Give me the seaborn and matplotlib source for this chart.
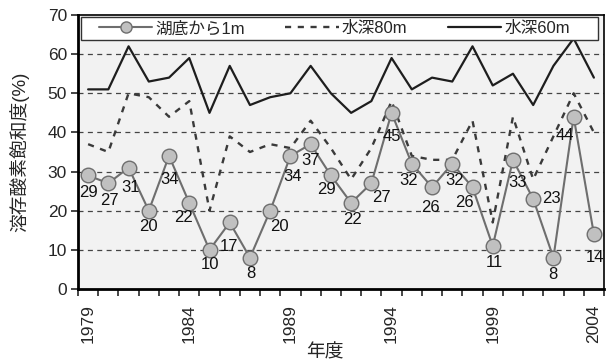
import matplotlib
matplotlib.use("Agg")
import matplotlib.pyplot as plt
from matplotlib.patches import Rectangle
import numpy as np
import pandas as pd
import seaborn as sns

# ---------------- data ----------------
years = list(range(1979, 2005))
bottom_1m = [29, 27, 31, 20, 34, 22, 10, 17, 8, 20, 34, 37, 29, 22, 27, 45, 32, 26, 32, 26, 11, 33, 23, 8, 44, 14]
depth_80m = [37, 35, 50, 49, 44, 48, 20, 39, 35, 37, 36, 43, 36, 28, 36, 48, 34, 33, 33, 43, 17, 44, 28, 39, 50, 40]
depth_60m = [51, 51, 62, 53, 54, 59, 45, 57, 47, 49, 50, 57, 50, 45, 48, 59, 51, 54, 53, 62, 52, 55, 47, 57, 64, 54]
series_names = ["湖底から1m", "水深80m", "水深60m"]
xtick_years = [1979, 1984, 1989, 1994, 1999, 2004]
yticks = [0, 10, 20, 30, 40, 50, 60, 70]
xlabel = "年度"
ylabel = "溶存酸素飽和度(%)"

# value-label offsets in pixels (dx, dy downward) -- layout only
label_offsets = [(0, 17), (1, 17), (2, 20), (0, 16), (1, 24), (-6, 15), (0, 15), (-1, 24),
                 (1, 16), (9, 16), (2, 21), (0, 16), (-4, 14), (1, 17), (10, 14), (0, 24),
                 (-3, 17), (-2, 20), (2, 17), (-8, 15), (2, 17), (5, 23), (18, 0), (-1, 17),
                 (-9, 19), (1, 23)]

# ---------------- style ----------------
sns.set_style("white")
plt.rcParams["font.family"] = ["Liberation Sans", "Noto Sans CJK JP"]

df = pd.DataFrame({"idx": np.arange(len(years)), "year": years,
                   "b1": bottom_1m, "d80": depth_80m, "d60": depth_60m})

W, H = 609, 363
AX_L, AX_R, AX_T, AX_B = 78, 604, 15, 289
AW, AH = AX_R - AX_L, AX_B - AX_T

fig = plt.figure(figsize=(W / 100, H / 100), dpi=100)
ax = fig.add_axes([AX_L / W, 1 - AX_B / H, AW / W, AH / H])
ax.set_facecolor("#f2f2f2")

# grid
for v in yticks[1:-1]:
    ax.axhline(v, color="#444444", lw=0.9, ls=(0, (4, 3.5)), zorder=1)

sns.lineplot(data=df, x="idx", y="d60", ax=ax, color="#1e1e1e", lw=1.6,
             label=series_names[2], zorder=3)
sns.lineplot(data=df, x="idx", y="d80", ax=ax, color="#3a3a3a", lw=1.7,
             ls=(0, (2.6, 2.8)), label=series_names[1], zorder=3)
sns.lineplot(data=df, x="idx", y="b1", ax=ax, color="#6e6e6e", lw=1.5,
             marker="o", markersize=10.5, markerfacecolor="#c0c0c0",
             markeredgecolor="#6e6e6e", markeredgewidth=1.0,
             label=series_names[0], zorder=4)

for i, v in enumerate(bottom_1m):
    dx, dy = label_offsets[i]
    ax.annotate(str(v), (i, v), xytext=(dx, -dy), textcoords="offset pixels",
                ha="center", va="center", fontsize=12, color="#111111", zorder=5)

ax.set_xlim(-0.5, len(years) - 0.5)
ax.set_ylim(0, 70)
ax.set_yticks(yticks)
ax.set_yticklabels([str(t) for t in yticks], fontsize=12.5)
ax.set_xticks([years.index(y) for y in xtick_years])
ax.set_xticklabels([str(y) for y in xtick_years], rotation=90, fontsize=12.5)
ax.set_xticks(np.arange(-0.5, len(years), 1.0), minor=True)
ax.tick_params(axis="x", which="major", length=0, pad=11)
ax.tick_params(axis="x", which="minor", length=5, width=1.2, direction="out", bottom=True)
ax.tick_params(axis="y", which="major", length=5, width=1.2, direction="out", left=True, pad=3)

for s in ["left", "bottom"]:
    ax.spines[s].set_linewidth(2.0)
    ax.spines[s].set_color("black")
for s in ["top", "right"]:
    ax.spines[s].set_linewidth(1.2)
    ax.spines[s].set_color("black")

ax.set_xlabel(xlabel, fontsize=13.5)
ax.set_ylabel(ylabel, fontsize=13.5)
ax.xaxis.set_label_coords((325 - AX_L) / AW, (AX_B - 344) / AH)
ax.yaxis.set_label_coords((29 - AX_L) / AW, (AX_B - 152) / AH)

# legend: manual frame + frameless legend
ax.add_patch(Rectangle(((81 - AX_L) / AW, 1 - (40 - AX_T) / AH), (598 - 81) / AW, 23 / AH,
                       transform=ax.transAxes, facecolor="white", edgecolor="#333333",
                       lw=1.0, zorder=6, clip_on=False))
handles, labels = ax.get_legend_handles_labels()
order = [labels.index(n) for n in series_names]
leg = ax.legend([handles[i] for i in order], [labels[i] for i in order],
                loc="center left", bbox_to_anchor=((99 - AX_L) / AW, 1 - (28.5 - AX_T) / AH),
                ncol=3, frameon=False, fontsize=12,
                handlelength=3.2, handletextpad=0.2, borderaxespad=0, borderpad=0,
                columnspacing=2.4)
leg.set_zorder(7)
for h in leg.legend_handles:
    if h.get_marker() == "o":
        h.set_markersize(8)

fig.savefig("out.png", dpi=100)
